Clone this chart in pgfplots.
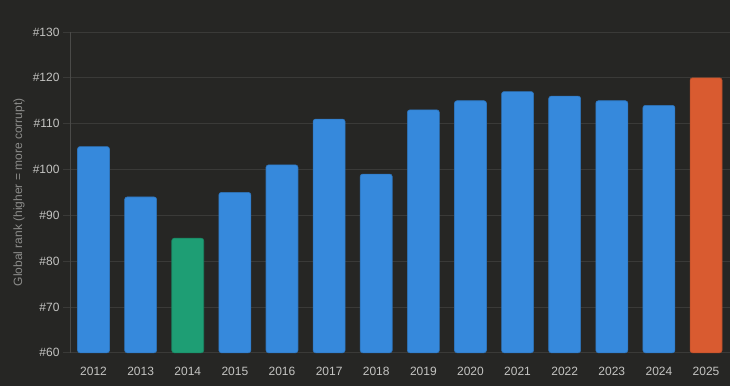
\documentclass[border=0pt]{standalone}
\usepackage{pgfplots}
\pgfplotsset{compat=1.18}
\usepackage{fontspec}
\setmainfont{Liberation Sans}
\definecolor{bg}{HTML}{262624}
\definecolor{gridc}{HTML}{3A3A38}
\definecolor{axisc}{HTML}{4A4A48}
\definecolor{tickc}{HTML}{C4C4C2}
\definecolor{labc}{HTML}{8C8C8A}
\definecolor{barblue}{HTML}{3689DC}
\definecolor{bargreen}{HTML}{1E9E74}
\definecolor{barorange}{HTML}{D95B30}
\begin{document}
\begin{tikzpicture}
\fill[bg] (0,0) rectangle (730pt,386pt);
\begin{axis}[
  at={(70pt,33pt)}, anchor=south west,
  scale only axis, width=660pt, height=321pt,
  xmin=-0.5, xmax=13.5, ymin=60, ymax=130,
  ytick={60,70,...,130},
  /pgf/number format/assume math mode=true,
  yticklabel={\#\pgfmathprintnumber{\tick}},
  xtick={0,...,13},
  xticklabels={2012,2013,2014,2015,2016,2017,2018,2019,2020,2021,2022,2023,2024,2025},
  ymajorgrids, grid style={gridc, line width=0.8pt},
  axis x line*=bottom, axis y line*=left,
  y axis line style={draw=axisc, line width=0.8pt},
  x axis line style={draw=none},
  major tick length=7pt,
  ytick style={draw=gridc, line width=0.8pt},
  xtick style={draw=none},
  tick align=outside,
  ticklabel style={font=\fontsize{12}{14}\selectfont, text=tickc},
  yticklabel style={xshift=0pt},
  xticklabel style={yshift=-4pt},
  ylabel={Global rank (higher = more corrupt)},
  ylabel style={font=\fontsize{12}{14}\selectfont, text=labc},
  every axis y label/.append style={at={(-51pt,0.5)}, anchor=center},
  ybar, bar width=32pt,
  clip=false,
]
\addplot+[bar shift=0pt, fill=barblue, draw=barblue!85!black, line width=0.6pt, rounded corners=2.5pt] coordinates {
(0,105) (1,94) (3,95) (4,101) (5,111) (6,99) (7,113) (8,115) (9,117) (10,116) (11,115) (12,114)
};
\addplot+[bar shift=0pt, fill=bargreen, draw=bargreen!85!black, line width=0.6pt, rounded corners=2.5pt] coordinates {
(2,85)
};
\addplot+[bar shift=0pt, fill=barorange, draw=barorange!85!black, line width=0.6pt, rounded corners=2.5pt] coordinates {
(13,120)
};
\end{axis}
\end{tikzpicture}
\end{document}
